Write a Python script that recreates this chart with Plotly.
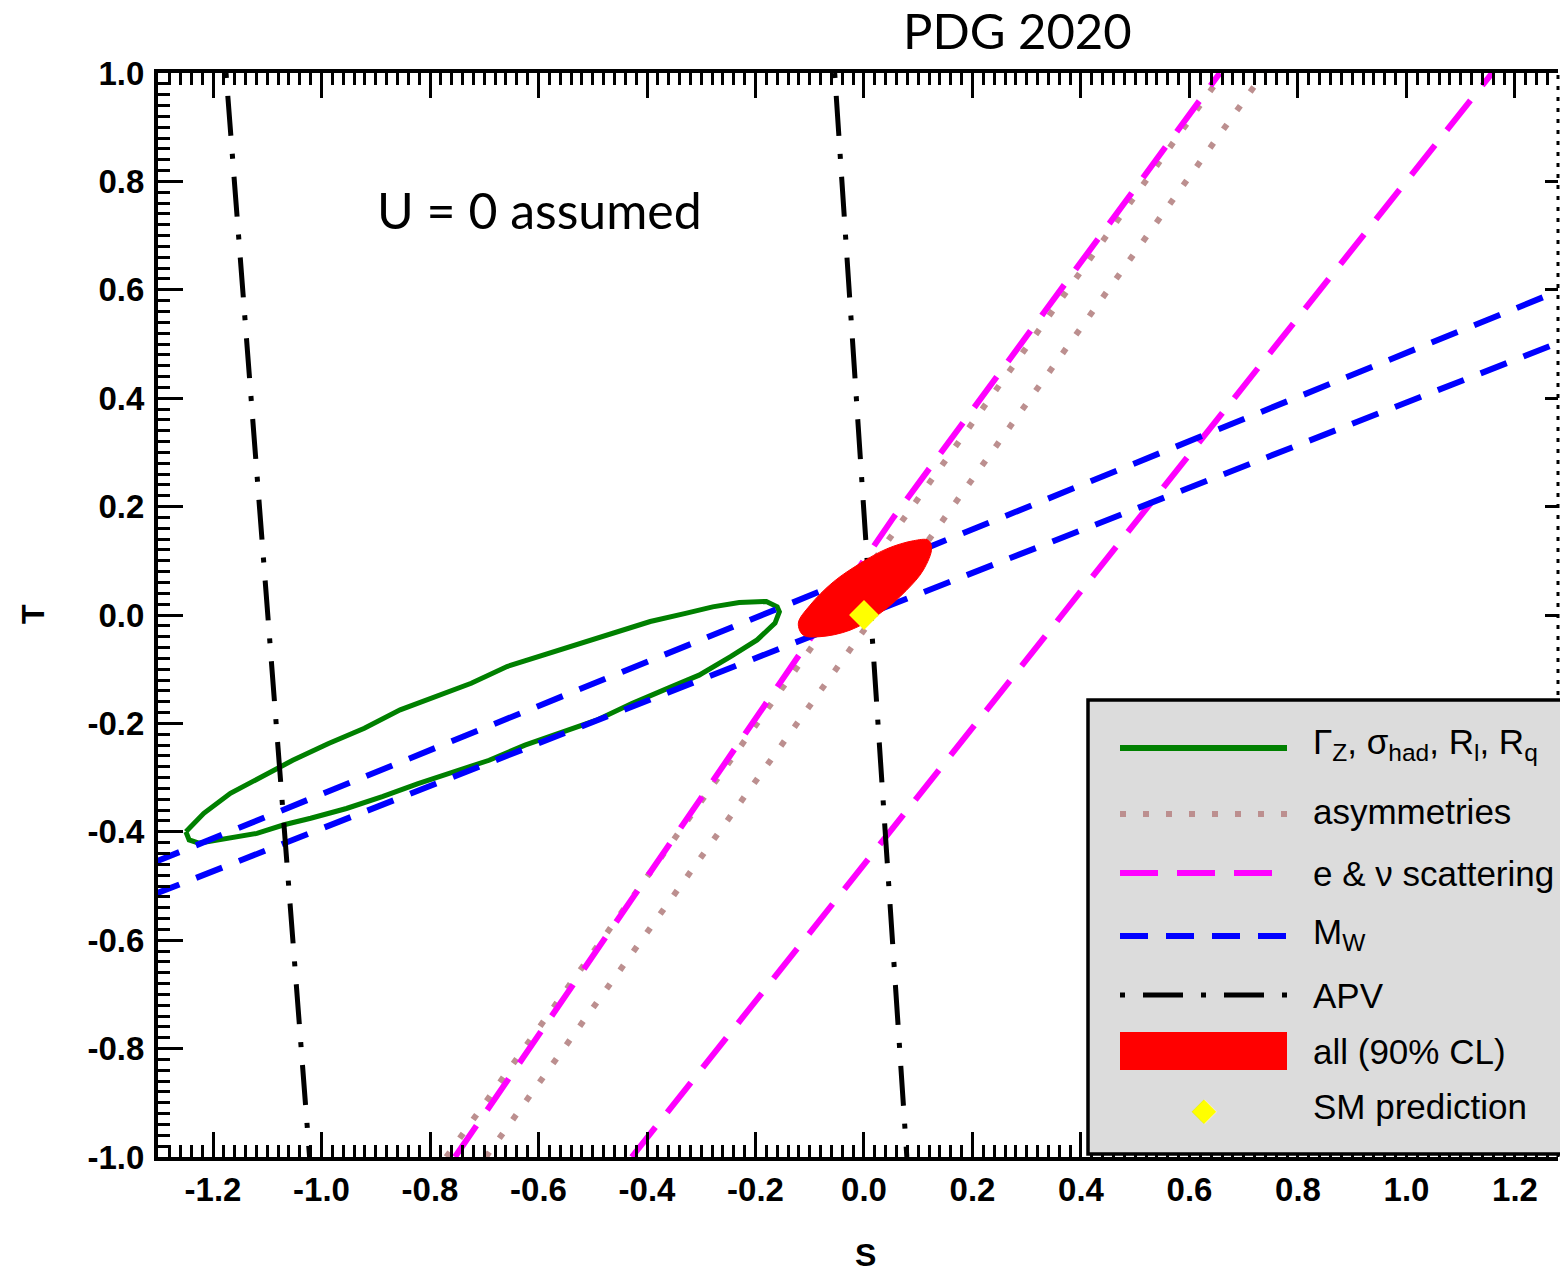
import plotly.graph_objects as go

# ---------------- data (S, T oblique parameters) ----------------
x_tickvals = [-1.2, -1.0, -0.8, -0.6, -0.4, -0.2, 0.0, 0.2, 0.4, 0.6, 0.8, 1.0, 1.2]
x_ticktext = ["-1.2", "-1.0", "-0.8", "-0.6", "-0.4", "-0.2", "0.0", "0.2", "0.4", "0.6", "0.8", "1.0", "1.2"]
y_tickvals = [-1.0, -0.8, -0.6, -0.4, -0.2, 0.0, 0.2, 0.4, 0.6, 0.8, 1.0]
y_ticktext = ["-1.0", "-0.8", "-0.6", "-0.4", "-0.2", "0.0", "0.2", "0.4", "0.6", "0.8", "1.0"]

# Z-pole observables contour (Gamma_Z, sigma_had, R_l, R_q)
zpole_S = [-1.250, -1.217, -1.168, -1.119, -1.053, -0.987, -0.921, -0.855, -0.789, -0.724,
           -0.658, -0.592, -0.526, -0.460, -0.394, -0.329, -0.279, -0.230, -0.180, -0.160,
           -0.156, -0.164, -0.197, -0.246, -0.304, -0.361, -0.427, -0.493, -0.559, -0.625,
           -0.691, -0.756, -0.822, -0.888, -0.954, -1.020, -1.069, -1.119, -1.185, -1.226,
           -1.244, -1.250]
zpole_T = [-0.400, -0.366, -0.329, -0.304, -0.268, -0.237, -0.209, -0.175, -0.151, -0.126,
           -0.095, -0.074, -0.052, -0.031, -0.012, 0.003, 0.015, 0.023, 0.025, 0.015,
           0.006, -0.015, -0.046, -0.077, -0.111, -0.135, -0.163, -0.194, -0.218, -0.240,
           -0.268, -0.289, -0.311, -0.335, -0.357, -0.375, -0.387, -0.403, -0.415, -0.421,
           -0.415, -0.400]

# asymmetries band
asym_lo_S = [-0.770, 0.662]
asym_lo_T = [-1.0, 1.0]
asym_hi_S = [-0.697, 0.737]
asym_hi_T = [-1.0, 1.0]

# e & nu scattering band
escat_lo_S = [-0.754, 0.055, 0.656]
escat_lo_T = [-1.0, 0.181, 1.0]
escat_hi_S = [-0.428, 1.158]
escat_hi_T = [-1.0, 1.0]

# M_W band
mw_hi_S = [-1.31, 1.31]
mw_hi_T = [-0.457, 0.610]
mw_lo_S = [-1.31, 1.31]
mw_lo_T = [-0.516, 0.514]

# atomic parity violation band
apv_l_S = [-1.176, -1.022]
apv_l_T = [1.0, -1.0]
apv_r_S = [-0.054, 0.079]
apv_r_T = [1.0, -1.0]

# global fit, 90% CL
all_S = [-0.121, -0.0995, -0.0566, -0.0074, 0.0418, 0.0909, 0.1185, 0.1247, 0.1094,
         0.0787, 0.0295, -0.0258, -0.0811, -0.112, -0.121]
all_T = [-0.015, 0.018, 0.061, 0.095, 0.122, 0.137, 0.138, 0.123, 0.083,
         0.046, 0.003, -0.028, -0.040, -0.037, -0.015]

# Standard Model point
sm_S = [0.0]
sm_T = [0.0]

legend_labels = [
    "Γ<sub>Z</sub>, σ<sub>had</sub>, R<sub>l</sub>, R<sub>q</sub>",
    "asymmetries",
    "e & ν scattering",
    "M<sub>W</sub>",
    "APV",
    "all (90% CL)",
    "SM prediction",
]

GREEN = "#008000"
BROWN = "#bc8f8f"
MAGENTA = "#ff00ff"
BLUE = "#0000ff"
BLACK = "#000000"
RED = "#ff0000"
YELLOW = "#ffff00"

DOT = "6px,17px"
LONGDASH = "38px,19px"
DASH = "28px,18px"
DASHDOT = "5px,18px,40px,18px"

fig = go.Figure()


def band_line(S, T, color, dash, width=5.5):
    fig.add_trace(go.Scatter(x=S, y=T, mode="lines", showlegend=False, hoverinfo="skip",
                             line=dict(color=color, width=width, dash=dash)))


fig.add_trace(go.Scatter(x=zpole_S, y=zpole_T, mode="lines", showlegend=False,
                         line=dict(color=GREEN, width=5)))
band_line(asym_lo_S, asym_lo_T, BROWN, DOT, 6)
band_line(asym_hi_S, asym_hi_T, BROWN, DOT, 6)
band_line(escat_lo_S, escat_lo_T, MAGENTA, LONGDASH, 6)
band_line(escat_hi_S, escat_hi_T, MAGENTA, LONGDASH, 6)
band_line(mw_hi_S, mw_hi_T, BLUE, DASH, 6)
band_line(mw_lo_S, mw_lo_T, BLUE, DASH, 6)
band_line(apv_l_S, apv_l_T, BLACK, DASHDOT, 5)
band_line(apv_r_S, apv_r_T, BLACK, DASHDOT, 5)
fig.add_trace(go.Scatter(x=all_S, y=all_T, mode="lines", fill="toself", fillcolor=RED,
                         showlegend=False, line=dict(color=RED, width=1, shape="spline")))
fig.add_trace(go.Scatter(x=sm_S, y=sm_T, mode="markers", showlegend=False, yaxis="y2",
                         marker=dict(symbol="diamond", size=23, color=YELLOW,
                                     line=dict(width=0))))

# ---------------- layout ----------------
W, H = 1560, 1274
L, R, TOP, BOT = 158, 1558, 73, 1157


def px(x):
    return (x - L) / (R - L)


def py(y):
    return (BOT - y) / (BOT - TOP)


tick_font = dict(family="Liberation Sans, Arial, sans-serif", size=33, color="black", weight="bold")

fig.update_layout(
    width=W, height=H,
    margin=dict(l=L, r=W - R, t=TOP, b=H - BOT),
    plot_bgcolor="white", paper_bgcolor="white",
    xaxis=dict(range=[-1.3014, 1.2793], tickvals=x_tickvals, ticktext=x_ticktext,
               ticks="inside", ticklen=25, tickwidth=3, tickcolor="black",
               minor=dict(dtick=0.02, tick0=0, ticks="inside", ticklen=12, tickwidth=3,
                          tickcolor="black", showgrid=False),
               showline=True, linewidth=4, linecolor="black", mirror="ticks",
               showgrid=False, zeroline=False, tickfont=tick_font, ticklabelstandoff=0),
    yaxis=dict(range=[-1.0, 1.0], tickvals=y_tickvals, ticktext=y_ticktext,
               ticks="inside", ticklen=25, tickwidth=3, tickcolor="black",
               minor=dict(dtick=0.02, tick0=0, ticks="inside", ticklen=12, tickwidth=3,
                          tickcolor="black", showgrid=False),
               showline=True, linewidth=4, linecolor="black", mirror=False,
               showgrid=False, zeroline=False, tickfont=tick_font, ticklabelstandoff=3),
    yaxis2=dict(overlaying="y", matches="y", side="right", range=[-1.0, 1.0],
                tickvals=y_tickvals, ticks="inside", ticklen=13, tickwidth=3,
                tickcolor="black", showticklabels=False, showline=False,
                showgrid=False, zeroline=False),
)

shapes = []
# dotted right frame edge
shapes.append(dict(type="line", xref="paper", yref="paper", x0=1, x1=1, y0=0, y1=1,
                   line=dict(color="black", width=3, dash="4px,7px"), layer="above"))
# legend box
shapes.append(dict(type="rect", xref="paper", yref="paper", x0=px(1088), x1=px(1620),
                   y0=py(1154), y1=py(700), fillcolor="#dcdcdc",
                   line=dict(color="black", width=3.5), layer="above"))

samp_x0, samp_x1 = px(1120), px(1287)
rows_y = [748, 814, 873, 936, 995, 1051, 1109]
samples = [(GREEN, "solid", 6), (BROWN, DOT, 6), (MAGENTA, LONGDASH, 6),
           (BLUE, DASH, 6), (BLACK, DASHDOT, 5)]
for (col, dash, wd), yy in zip(samples, rows_y[:5]):
    shapes.append(dict(type="line", xref="paper", yref="paper", x0=samp_x0, x1=samp_x1,
                       y0=py(yy), y1=py(yy), line=dict(color=col, width=wd, dash=dash),
                       layer="above"))
shapes.append(dict(type="rect", xref="paper", yref="paper", x0=samp_x0, x1=samp_x1,
                   y0=py(1070), y1=py(1032), fillcolor=RED, line=dict(width=0),
                   layer="above"))
fig.update_layout(shapes=shapes)

ann = []
leg_font = dict(family="Liberation Sans, Arial, sans-serif", size=35, color="black")
text_dy = [-4, -2, 0, -2, 0, 0, -3]
for lab, yy, dy in zip(legend_labels, rows_y, text_dy):
    ann.append(dict(xref="paper", yref="paper", x=px(1311), y=py(yy + dy), text=lab,
                    showarrow=False, xanchor="left", yanchor="middle", font=leg_font))
ann.append(dict(xref="paper", yref="paper", x=px(1204), y=py(1109), text="◆",
                showarrow=False, xanchor="center", yanchor="middle",
                font=dict(family="DejaVu Sans", size=32, color=YELLOW)))

title_font = dict(family="Lato, Noto Sans, sans-serif", size=49, color="black")
ann.append(dict(xref="paper", yref="paper", x=px(1017), y=py(30), text="PDG 2020",
                showarrow=False, xanchor="center", yanchor="middle", font=title_font))
ann.append(dict(xref="paper", yref="paper", x=px(539), y=py(210), text="U = 0 assumed",
                showarrow=False, xanchor="center", yanchor="middle",
                font=dict(family="Lato, Noto Sans, sans-serif", size=50, color="black")))

axis_title_font = dict(family="Liberation Sans, Arial, sans-serif", size=32, color="black",
                       weight="bold")
ann.append(dict(xref="paper", yref="paper", x=px(866), y=py(1255), text="S",
                showarrow=False, xanchor="center", yanchor="middle", font=axis_title_font))
ann.append(dict(xref="paper", yref="paper", x=px(33), y=py(614), text="T", textangle=-90,
                showarrow=False, xanchor="center", yanchor="middle", font=axis_title_font))
fig.update_layout(annotations=ann)

fig.write_html("out.html")
